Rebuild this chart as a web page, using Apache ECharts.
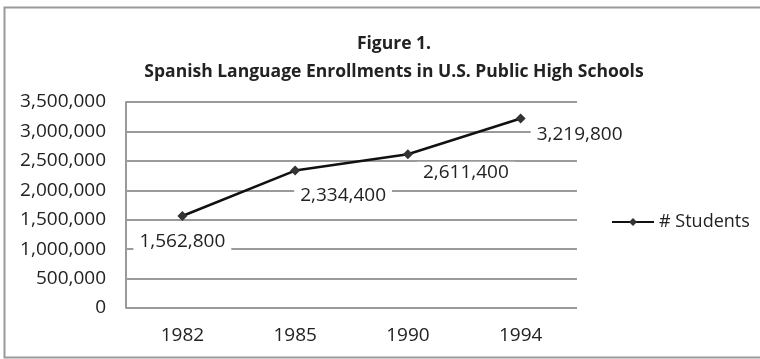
<!DOCTYPE html>
<html>
<head>
<meta charset="utf-8">
<script src="https://cdn.jsdelivr.net/npm/echarts@6/dist/echarts.min.js"></script>
<style>
  html, body { margin: 0; padding: 0; background: #fff; }
  #chart { width: 760px; height: 359px; }
</style>
</head>
<body>
<div id="chart"></div>
<script>
// data
const years = ['1982', '1985', '1990', '1994']
const students = [1562800, 2334400, 2611400, 3219800]
const seriesName = '# Students'
const yTicks = [0, 500000, 1000000, 1500000, 2000000, 2500000, 3000000, 3500000]

// where excel dropped each data label, relative to its point
const labelOffsets = [[0, 26], [48, 25], [58, 18], [59, 16]]

const fontFamily = '"Open Sans", "Liberation Sans", sans-serif'
const fmt = v => v.toLocaleString('en-US')

const chart = echarts.init(document.getElementById('chart'))
chart.setOption({
  animation: false,
  backgroundColor: '#fff',
  textStyle: {fontFamily},
  graphic: [{
    type: 'rect',
    shape: {x: 4.5, y: 7.5, width: 770, height: 350},
    style: {fill: 'none', stroke: '#9a9a9a', lineWidth: 2},
    silent: true
  }],
  title: {
    text: 'Figure 1.\nSpanish Language Enrollments in U.S. Public High Schools',
    left: 389,
    textAlign: 'center',
    top: 25,
    textStyle: {fontFamily, fontSize: 17.5, fontWeight: 'bold', color: '#222', lineHeight: 28}
  },
  legend: {
    data: [seriesName],
    left: 606,
    top: 208,
    itemWidth: 42,
    itemHeight: 10,
    itemGap: 3,
    textStyle: {fontFamily, fontSize: 18, color: '#222'}
  },
  grid: {left: 126, right: 183, top: 102, bottom: 51},
  xAxis: {
    type: 'category',
    data: years,
    boundaryGap: true,
    axisLine: {show: false},
    axisTick: {show: false},
    axisLabel: {fontFamily, fontSize: 19, color: '#222', margin: 18}
  },
  yAxis: {
    type: 'value',
    min: yTicks[0],
    max: yTicks[yTicks.length - 1],
    interval: yTicks[1] - yTicks[0],
    axisLine: {show: true, lineStyle: {color: '#9a9a9a', width: 2}},
    axisTick: {show: false},
    splitLine: {lineStyle: {color: '#9a9a9a', width: 2}},
    axisLabel: {fontFamily, fontSize: 19, color: '#222', margin: 20, formatter: fmt}
  },
  series: [{
    name: seriesName,
    type: 'line',
    data: students.map((v, i) => ({
      value: v,
      label: {offset: labelOffsets[i]}
    })),
    symbol: 'diamond',
    symbolSize: 10,
    lineStyle: {color: '#111', width: 2.5},
    itemStyle: {color: '#333'},
    label: {
      show: true,
      position: 'inside',
      formatter: p => fmt(p.value),
      fontFamily,
      fontSize: 19,
      color: '#222',
      backgroundColor: '#fff',
      padding: [1, 6]
    }
  }]
})
</script>
</body>
</html>
